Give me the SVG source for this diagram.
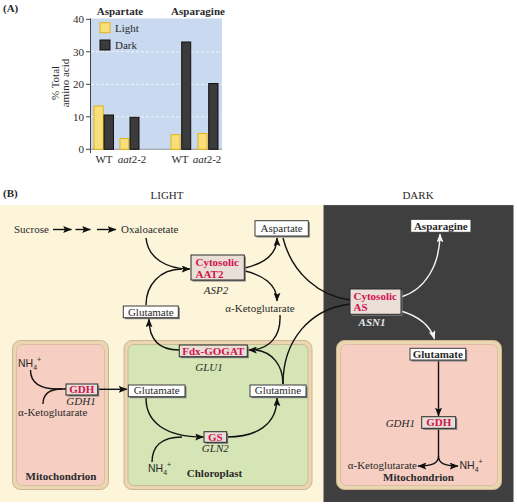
<svg xmlns="http://www.w3.org/2000/svg" width="517" height="504" viewBox="0 0 517 504">
<style>
text{font-family:"Liberation Serif","Times New Roman",serif;font-size:11px;fill:#2a2a2a}
.b{font-weight:bold}
.i{font-style:italic}
.enz{fill:#d2124f;font-weight:bold}
.sans{font-family:"Liberation Sans",Arial,sans-serif;font-size:10.5px}
.nb{fill:#fff;stroke:#3a3a3a;stroke-width:1}
.eb{fill:#eadfd7;stroke:#2a2a2a;stroke-width:1}
.sh{fill:#7a7a7a}
.c{fill:none;stroke:#111;stroke-width:1.4}
.cw{fill:none;stroke:#f4f4f4;stroke-width:1.4}
.mo{fill:#ead6b2;stroke:#cdb48c;stroke-width:1}
.mi{fill:#f6cec2;stroke:#d8b89a;stroke-width:0.8}
.ci{fill:#d5e5b6;stroke:#c2b48e;stroke-width:0.8}
.grid{stroke:#eef3fb;stroke-width:1;stroke-dasharray:3 2}
.lb{fill:#f9df7a;stroke:#e2b514;stroke-width:1}
.db{fill:#3b3b3b;stroke:#111;stroke-width:1}
</style>
<defs>
<marker id="ah" viewBox="0 0 10 8" refX="9.5" refY="4" markerWidth="9" markerHeight="7" markerUnits="userSpaceOnUse" orient="auto">
<path d="M0,0 L10,4 L0,8 L2,4 z" fill="#111"/>
</marker>
<marker id="aw" viewBox="0 0 10 8" refX="9.5" refY="4" markerWidth="9" markerHeight="7" markerUnits="userSpaceOnUse" orient="auto">
<path d="M0,0 L10,4 L0,8 L2,4 z" fill="#f4f4f4"/>
</marker>
</defs>
<rect width="517" height="504" fill="#fff"/>

<!-- Panel A: chart -->
<g id="chart">
<text x="3" y="12" class="b">(A)</text>
<rect x="90.5" y="18.5" width="131.5" height="131" fill="#c9d9ef"/>
<line class="grid" x1="91" y1="51.8" x2="222" y2="51.8"/>
<line class="grid" x1="91" y1="84.3" x2="222" y2="84.3"/>
<line class="grid" x1="91" y1="116.8" x2="222" y2="116.8"/>
<line x1="90.5" y1="18.5" x2="90.5" y2="153" stroke="#444" stroke-width="1"/>
<line x1="90.5" y1="149.3" x2="222" y2="149.3" stroke="#888" stroke-width="0.8"/>
<g stroke="#444" stroke-width="1">
<line x1="86" y1="19.3" x2="90.5" y2="19.3"/>
<line x1="86" y1="51.8" x2="90.5" y2="51.8"/>
<line x1="86" y1="84.3" x2="90.5" y2="84.3"/>
<line x1="86" y1="116.8" x2="90.5" y2="116.8"/>
<line x1="86" y1="149.3" x2="90.5" y2="149.3"/>
</g>
<g text-anchor="end">
<text x="84" y="23">40</text>
<text x="84" y="55.5">30</text>
<text x="84" y="88">20</text>
<text x="84" y="120.5">10</text>
<text x="84" y="153">0</text>
</g>
<text transform="translate(59,83) rotate(-90)" text-anchor="middle" fill="#444">% Total</text>
<text transform="translate(68.5,83) rotate(-90)" text-anchor="middle" fill="#444">amino acid</text>
<text x="120" y="15" text-anchor="middle" class="b">Aspartate</text>
<text x="198" y="15" text-anchor="middle" class="b">Asparagine</text>
<rect x="100" y="22.7" width="10" height="10" class="lb"/>
<text x="115" y="32">Light</text>
<rect x="100" y="40" width="10" height="10" class="db"/>
<text x="115" y="49">Dark</text>
<rect x="94" y="106" width="9.3" height="43.3" class="lb"/>
<rect x="104" y="115" width="9.5" height="34.3" class="db"/>
<rect x="120" y="138.5" width="8.7" height="10.8" class="lb"/>
<rect x="130" y="117.3" width="9" height="32" class="db"/>
<rect x="171" y="134.7" width="9" height="14.6" class="lb"/>
<rect x="181.7" y="42" width="9" height="107.3" class="db"/>
<rect x="198" y="133.5" width="9" height="15.8" class="lb"/>
<rect x="208.7" y="83.5" width="9.3" height="65.8" class="db"/>
<text x="104" y="163" text-anchor="middle">WT</text>
<text x="132" y="163" text-anchor="middle"><tspan class="i">aat</tspan>2-2</text>
<text x="180" y="163" text-anchor="middle">WT</text>
<text x="207" y="163" text-anchor="middle"><tspan class="i">aat</tspan>2-2</text>
</g>

<!-- Panel B backgrounds -->
<g id="panels">
<text x="3" y="196.5" class="b">(B)</text>
<text x="167" y="199" text-anchor="middle" fill="#333">LIGHT</text>
<text x="418" y="199" text-anchor="middle" fill="#333">DARK</text>
<rect x="0" y="205" width="323.5" height="297" fill="#fdf5da"/>
<rect x="323.5" y="205" width="190" height="297" fill="#3f3f3f"/>
<line x1="323.5" y1="205.3" x2="513.5" y2="205.3" stroke="#9a9a9a" stroke-width="0.6" stroke-dasharray="1 1"/>
</g>

<!-- Compartments -->
<g id="mito-left">
<rect x="12.5" y="340.5" width="96" height="149" rx="8" class="mo"/>
<rect x="16.5" y="344.5" width="88" height="141" rx="6" class="mi"/>
<text x="61" y="479.5" text-anchor="middle" class="b">Mitochondrion</text>
</g>
<g id="chloroplast">
<rect x="124" y="340.5" width="188" height="149" rx="8" class="mo"/>
<rect x="128" y="344.5" width="180" height="141" rx="6" class="ci"/>
<text x="214.5" y="477" text-anchor="middle" class="b">Chloroplast</text>
</g>
<g id="mito-right">
<rect x="336.5" y="340.5" width="165" height="149" rx="8" class="mo"/>
<rect x="340.5" y="344.5" width="157" height="141" rx="6" class="mi"/>
<text x="418.5" y="481" text-anchor="middle" class="b">Mitochondrion</text>
</g>

<!-- Connectors -->
<g id="connectors">
<line class="c" x1="53" y1="229.5" x2="71.5" y2="229.5" marker-end="url(#ah)"/>
<line class="c" x1="75.5" y1="229.5" x2="90.5" y2="229.5" marker-end="url(#ah)"/>
<line class="c" x1="97" y1="229.5" x2="116" y2="229.5" marker-end="url(#ah)"/>
<path class="c" d="M146,238 C148,258 166,269 190,269" marker-end="url(#ah)"/>
<path class="c" d="M146,305 C146,285 160,269 182,269"/>
<path class="c" d="M245,268 C262,264 277,256 277,238" marker-end="url(#ah)"/>
<path class="c" d="M245,271 C262,275 277,284 277,301" marker-end="url(#ah)"/>
<path class="c" d="M280,315 C281,336 270,350 248.5,350" marker-end="url(#ah)"/>
<path class="c" d="M283,384 C283,365 272,352 256,350"/>
<path class="c" d="M179,350 C160,350 149,340 149,319" marker-end="url(#ah)"/>
<path class="c" d="M283,238 C292,274 320,296 350,300"/>
<path class="c" d="M283,384 C283,340 310,309 350,304"/>
<path class="c" d="M30.5,370 C30.5,384 42,389 58,389 L66,389"/>
<path class="c" d="M43,404 C43,394 50,389 62,389"/>
<line class="c" x1="98" y1="389.3" x2="127" y2="389.3" marker-end="url(#ah)"/>
<path class="c" d="M146,398 C146,422 165,437 203.5,437" marker-end="url(#ah)"/>
<path class="c" d="M152,462 C152,447 161,437 182,437"/>
<path class="c" d="M227,437 C256,437 277,425 277,398" marker-end="url(#ah)"/>
<path class="cw" d="M401,297 C425,290 440,265 440,234" marker-end="url(#aw)"/>
<path class="cw" d="M401,311 C418,316 430,325 434.5,339" marker-end="url(#aw)"/>
<line class="c" x1="438.5" y1="360.5" x2="438.5" y2="416" marker-end="url(#ah)"/>
<path class="c" d="M438.5,429 L438.5,456 C438.5,463 433,466 418,466" marker-end="url(#ah)"/>
<path class="c" d="M438.5,456 C438.5,463 444,466 458,466" marker-end="url(#ah)"/>
</g>

<!-- Nodes -->
<g id="sucrose"><text x="14" y="232.5">Sucrose</text></g>
<g id="oxaloacetate"><text x="121" y="232.5">Oxaloacetate</text></g>
<g id="aspartate">
<rect x="256.5" y="222.2" width="53.3" height="15.3" class="sh"/>
<rect x="255" y="220.7" width="53.3" height="15.3" class="nb"/>
<text x="281.7" y="232" text-anchor="middle">Aspartate</text>
</g>
<g id="aat2">
<rect x="192.5" y="256.5" width="53.3" height="25" class="sh"/>
<rect x="191" y="255" width="53.3" height="25" class="eb"/>
<text x="195.5" y="265.5" class="enz">Cytosolic</text>
<text x="195.5" y="277.5" class="enz">AAT2</text>
<text x="216" y="293.5" text-anchor="middle" class="i">ASP2</text>
</g>
<g id="glutamate-top">
<rect x="124.8" y="307.5" width="55" height="11.7" class="sh"/>
<rect x="123.3" y="306" width="55" height="11.7" class="nb"/>
<text x="150.8" y="315.5" text-anchor="middle">Glutamate</text>
</g>
<g id="akg-top"><text x="260" y="311.5" text-anchor="middle">α-Ketoglutarate</text></g>
<g id="gogat">
<rect x="180.8" y="346.5" width="68" height="11.7" class="sh"/>
<rect x="179.3" y="345" width="68" height="11.7" class="eb"/>
<text x="213.3" y="354.5" text-anchor="middle" class="enz">Fdx-GOGAT</text>
<text x="209" y="370.5" text-anchor="middle" class="i">GLU1</text>
</g>
<g id="nh4-mito"><text x="18" y="366.5" class="sans">NH<tspan font-size="7" dy="3">4</tspan><tspan font-size="7" dy="-8">+</tspan></text></g>
<g id="gdh-left">
<rect x="67.5" y="385.5" width="31.7" height="11" class="sh"/>
<rect x="66" y="384" width="31.7" height="11" class="eb"/>
<text x="81.8" y="393" text-anchor="middle" class="enz" font-size="10.5">GDH</text>
<text x="81" y="405" text-anchor="middle" class="i" font-size="10.5">GDH1</text>
</g>
<g id="akg-mito"><text x="18" y="415.5">α-Ketoglutarate</text></g>
<g id="glutamate-chl">
<rect x="129.8" y="386.5" width="56.7" height="11.7" class="sh"/>
<rect x="128.3" y="385" width="56.7" height="11.7" class="nb"/>
<text x="156.7" y="394.3" text-anchor="middle">Glutamate</text>
</g>
<g id="glutamine">
<rect x="251.5" y="386.5" width="56" height="11.7" class="sh"/>
<rect x="250" y="385" width="56" height="11.7" class="nb"/>
<text x="278" y="394.3" text-anchor="middle">Glutamine</text>
</g>
<g id="gs">
<rect x="205.5" y="433.2" width="22.7" height="10.6" class="sh"/>
<rect x="204" y="431.7" width="22.7" height="10.6" class="eb"/>
<text x="215.3" y="440.5" text-anchor="middle" class="enz">GS</text>
<text x="215.3" y="452" text-anchor="middle" class="i">GLN2</text>
</g>
<g id="nh4-chl"><text x="148" y="471.5" class="sans">NH<tspan font-size="7" dy="3">4</tspan><tspan font-size="7" dy="-8">+</tspan></text></g>
<g id="as">
<rect x="351.5" y="290.5" width="51" height="25.3" class="sh" fill="#222"/>
<rect x="350" y="289" width="51" height="25.3" class="eb"/>
<text x="353.5" y="299.5" class="enz">Cytosolic</text>
<text x="353.5" y="311" class="enz">AS</text>
<text x="372" y="326" text-anchor="middle" class="i b" style="fill:#e8e8e8">ASN1</text>
</g>
<g id="asparagine">
<rect x="410.7" y="219.3" width="60.3" height="13" class="nb"/>
<text x="440.8" y="229.5" text-anchor="middle" class="b">Asparagine</text>
</g>
<g id="glutamate-dark">
<rect x="411.5" y="349.8" width="55.7" height="11.7" class="sh"/>
<rect x="410" y="348.3" width="55.7" height="11.7" class="nb"/>
<text x="437.8" y="357.5" text-anchor="middle" class="b">Glutamate</text>
</g>
<g id="gdh-right">
<rect x="423.2" y="418.2" width="34" height="11.6" class="sh"/>
<rect x="421.7" y="416.7" width="34" height="11.6" class="eb"/>
<text x="438.7" y="426.2" text-anchor="middle" class="enz">GDH</text>
<text x="415" y="427.3" text-anchor="end" class="i">GDH1</text>
</g>
<g id="akg-dark"><text x="417" y="468.5" text-anchor="end">α-Ketoglutarate</text></g>
<g id="nh4-dark"><text x="459.5" y="468.5" class="sans">NH<tspan font-size="7" dy="3">4</tspan><tspan font-size="7" dy="-8">+</tspan></text></g>
</svg>
